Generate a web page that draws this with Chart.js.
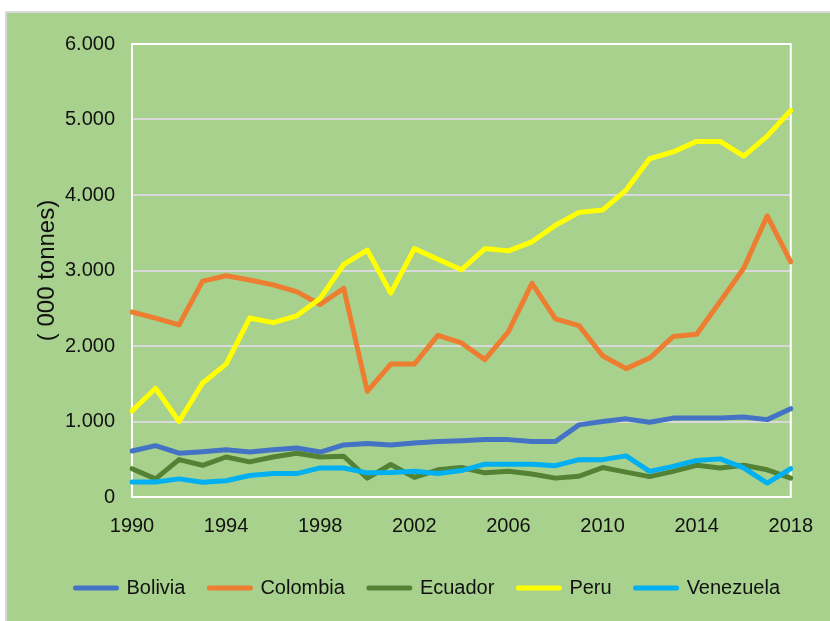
<!DOCTYPE html>
<html>
<head>
<meta charset="utf-8">
<script src="https://cdn.jsdelivr.net/npm/chart.js@4.4.0/dist/chart.umd.min.js"></script>
<style>
  body { margin: 0; background: #fff; }
  #panel {
    position: absolute; left: 5px; top: 11px;
    width: 825px; height: 610px; box-sizing: border-box;
    border-left: 2px solid #d9d9d9; border-top: 2px solid #d9d9d9;
    background: #a9d18e;
  }
  #box { position: relative; width: 823px; height: 608px; }
</style>
</head>
<body>
<div id="panel"><div id="box"><canvas id="prodChart"></canvas></div></div>
<script>
const years = ['1990','1991','1992','1993','1994','1995','1996','1997','1998','1999',
  '2000','2001','2002','2003','2004','2005','2006','2007','2008','2009',
  '2010','2011','2012','2013','2014','2015','2016','2017','2018'];
const xTickYears = ['1990','1994','1998','2002','2006','2010','2014','2018'];
const yTickLabels = ['0','1.000','2.000','3.000','4.000','5.000','6.000'];

const bolivia = [610,680,580,600,625,595,625,650,595,690,710,690,715,735,745,760,760,735,735,955,1000,1035,990,1045,1045,1045,1060,1025,1170];
const colombia = [2450,2370,2280,2860,2930,2875,2810,2720,2550,2765,1400,1760,1760,2140,2040,1820,2190,2830,2360,2270,1870,1700,1840,2125,2155,2590,3030,3725,3115];
const ecuador = [375,240,495,420,530,465,530,580,530,540,250,430,260,360,390,320,340,305,250,275,390,330,270,340,420,385,420,360,250];
const peru = [1140,1440,1000,1510,1760,2370,2310,2400,2630,3080,3270,2700,3290,3150,3010,3290,3260,3380,3600,3770,3800,4065,4480,4570,4710,4710,4515,4780,5120];
const venezuela = [200,200,240,195,215,285,310,310,385,385,320,325,340,310,350,435,435,435,415,495,495,545,340,405,485,505,385,185,375];

const sans = "'Liberation Sans', Arial, sans-serif";

function serie(label, data, color, order) {
  return {
    label: label,
    data: data,
    borderColor: color,
    backgroundColor: color,
    borderWidth: 5,
    borderJoinStyle: 'round',
    borderCapStyle: 'round',
    pointRadius: 0,
    tension: 0,
    order: order
  };
}

// white frame round the plot area, like the excel chart
const plotFrame = {
  id: 'plotFrame',
  beforeDatasetsDraw(chart) {
    const a = chart.chartArea;
    const ctx = chart.ctx;
    ctx.save();
    ctx.strokeStyle = '#ffffff';
    ctx.lineWidth = 2;
    ctx.strokeRect(a.left, a.top, a.right - a.left, a.bottom - a.top);
    ctx.restore();
  }
};

document.addEventListener('DOMContentLoaded', function () {
  const ctx = document.getElementById('prodChart').getContext('2d');

  new Chart(ctx, {
    type: 'line',
    data: {
      labels: years,
      datasets: [
        serie('Bolivia', bolivia, '#4472c4', 5),
        serie('Colombia', colombia, '#ed7d31', 4),
        serie('Ecuador', ecuador, '#548235', 3),
        serie('Peru', peru, '#ffff00', 2),
        serie('Venezuela', venezuela, '#00b0f0', 1)
      ]
    },
    options: {
      responsive: true,
      maintainAspectRatio: false,
      animation: false,
      layout: { padding: { top: 31, right: 0, bottom: 13, left: 44.5 } },
      plugins: {
        tooltip: { enabled: false },
        legend: {
          position: 'bottom',
          align: 'start',
          labels: {
            color: '#111',
            font: { family: sans, size: 20 },
            boxWidth: 41,
            boxHeight: 0,
            padding: 24,
            sort: (a, b) => a.datasetIndex - b.datasetIndex
          }
        }
      },
      scales: {
        x: {
          grid: { display: false, drawTicks: false },
          border: { color: '#ffffff', width: 2 },
          afterFit: (scale) => { scale.height = 57; },
          ticks: {
            autoSkip: false,
            maxRotation: 0,
            padding: 17,
            color: '#111',
            font: { family: sans, size: 20 },
            callback: function (value, index) {
              const y = years[index];
              return xTickYears.includes(y) ? y : '';
            }
          }
        },
        y: {
          min: 0,
          max: 6000,
          afterFit: (scale) => { scale.width = 80.5; },
          grid: { color: '#d9d9d9', lineWidth: 2, drawTicks: false },
          border: { color: '#ffffff', width: 2 },
          ticks: {
            stepSize: 1000,
            padding: 17,
            color: '#111',
            font: { family: sans, size: 20 },
            callback: function (value) {
              return yTickLabels[value / 1000];
            }
          },
          title: {
            display: true,
            text: '( 000 tonnes)',
            color: '#111',
            font: { family: sans, size: 24 },
            padding: { top: -19, bottom: 0 }
          }
        },
        // empty right-hand strip, keeps the plot off the panel edge
        yRight: {
          position: 'right',
          grid: { display: false, drawTicks: false },
          border: { display: false },
          ticks: { display: false },
          afterFit: (scale) => { scale.width = 37; }
        }
      }
    },
    plugins: [plotFrame]
  });
});
</script>
</body>
</html>
